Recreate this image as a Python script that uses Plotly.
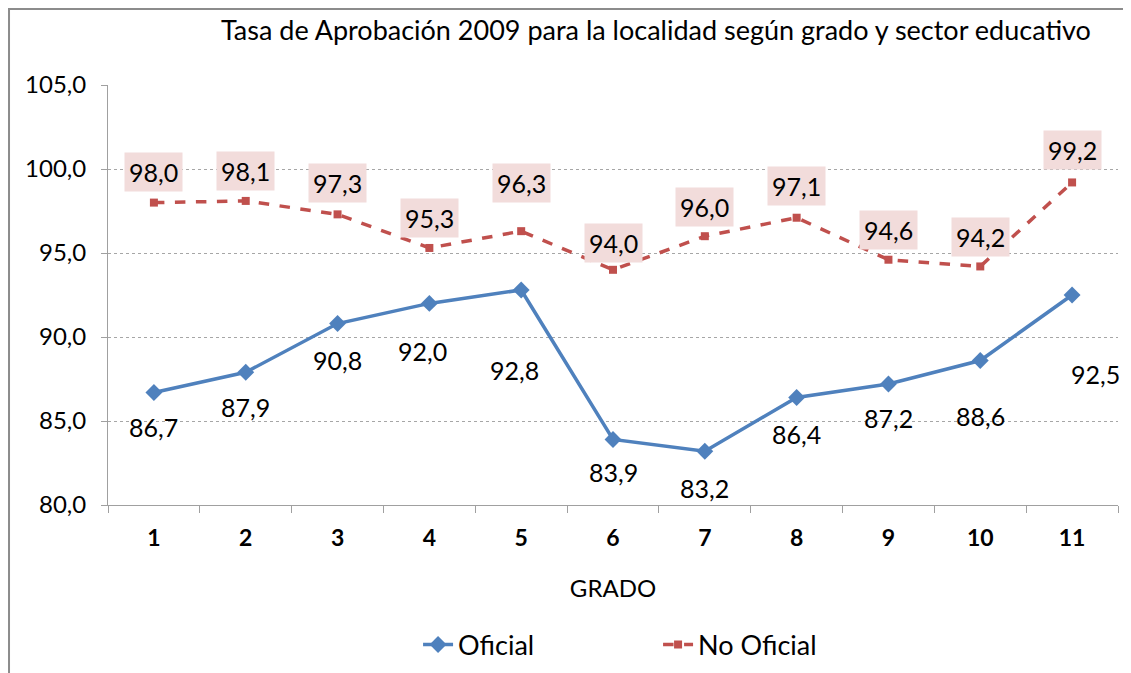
import plotly.graph_objects as go

grados = ["1", "2", "3", "4", "5", "6", "7", "8", "9", "10", "11"]
oficial = [86.7, 87.9, 90.8, 92.0, 92.8, 83.9, 83.2, 86.4, 87.2, 88.6, 92.5]
no_oficial = [98.0, 98.1, 97.3, 95.3, 96.3, 94.0, 96.0, 97.1, 94.6, 94.2, 99.2]

# hand-placed label offsets (pixels), as in the original chart
ofi_dy = [-35, -35, -36, -48, -80, -33, -37, -37, -34, -55, -79]
ofi_dx = [0, 0, 0, -7, -7, 0, 0, 0, 0, 0, 23]
nof_dy = [31, 30, 31, 30, 48, 27, 29, 32, 30, 29, 32]

BLUE = "#4F81BD"
RED = "#C0504D"
FONT = "Lato"

fig = go.Figure()
fig.add_trace(go.Scatter(x=grados, y=oficial, name="Oficial", mode="lines+markers",
                         line=dict(color=BLUE, width=3.5),
                         marker=dict(symbol="diamond", size=13, color=BLUE)))
fig.add_trace(go.Scatter(x=grados, y=no_oficial, name="No Oficial", mode="lines+markers",
                         line=dict(color=RED, width=3.5, dash="dash"),
                         marker=dict(symbol="square", size=8, color=RED)))

annotations = []
# category axis: annotations use the category index
for i, (v, dx, dy) in enumerate(zip(oficial, ofi_dx, ofi_dy)):
    annotations.append(dict(x=i, y=v, text=f"{v:.1f}".replace(".", ","), showarrow=False,
                            xshift=dx, yshift=dy, font=dict(size=25, color="#000")))
for i, (v, dy) in enumerate(zip(no_oficial, nof_dy)):
    annotations.append(dict(x=i, y=v, text=f"{v:.1f}".replace(".", ","), showarrow=False,
                            yshift=dy, bgcolor="#F2DCDB", borderpad=4,
                            font=dict(size=25, color="#000")))

annotations.append(dict(text="Tasa de Aprobación 2009 para la localidad según grado y sector educativo",
                        xref="paper", yref="paper", x=0.5426, y=1.131, xanchor="center",
                        yanchor="middle", showarrow=False, font=dict(size=27, color="#000")))

fig.update_layout(
    width=1131, height=673,
    margin=dict(l=100, r=21, t=77, b=176),
    paper_bgcolor="white", plot_bgcolor="white",
    font=dict(family=FONT, color="#000"),
    separators=",.",
    annotations=annotations,
    showlegend=True,
    legend=dict(orientation="h", x=0.307, y=0.0535, yref="container", xanchor="left",
                yanchor="middle", font=dict(size=27), entrywidth=195, tracegroupgap=0),
    shapes=[dict(type="rect", xref="paper", yref="paper", x0=-0.098, x1=1.05,
                 y0=-0.5, y1=1.181, line=dict(color="#8C8C8C", width=2), layer="below")],
)
fig.update_xaxes(type="category", range=[-0.5, 10.5], tickson="boundaries",
                 ticks="outside", ticklen=7, tickcolor="#A0A0A0", showline=True,
                 linecolor="#A0A0A0", linewidth=1, showgrid=False,
                 tickfont=dict(size=23, weight="bold"), ticklabelstandoff=12, automargin=False,
                 title=dict(text="GRADO", font=dict(size=24), standoff=30))
fig.update_yaxes(range=[80, 105], dtick=5, tickformat=".1f", ticks="outside", ticklen=6,
                 tickcolor="#A0A0A0", showline=True, linecolor="#A0A0A0", linewidth=1,
                 showgrid=True, gridcolor="#A6A6A6", griddash="dot", gridwidth=1,
                 zeroline=False, tickfont=dict(size=24), ticklabelstandoff=10, automargin=False)

fig.write_html("out.html")
